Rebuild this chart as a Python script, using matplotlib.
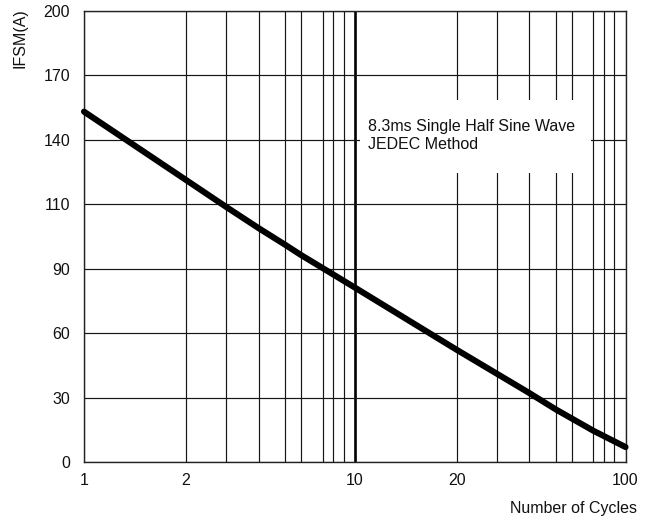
import numpy as np
import matplotlib
matplotlib.use("Agg")
import matplotlib.pyplot as plt
from matplotlib.patches import Rectangle

plt.rcParams['font.family'] = ['Liberation Sans', 'DejaVu Sans']

# ---- data ----
cycles = [1, 2, 3, 4, 5, 6, 8, 10, 20, 30, 40, 50, 70, 100]
ifsm = [153.1, 121.3, 109.2, 102.6, 97.4, 94.3, 87.4, 81.3, 52.3, 41.2, 32.2, 24.5, 14.7, 7.1]

y_tick_values = [0, 30, 60, 90, 110, 140, 170, 200]
x_major_ticks = [1, 2, 10, 20, 100]
x_major_labels = ['1', '2', '10', '20', '100']
x_minor_ticks = [3, 4, 5, 6, 7, 8, 9, 30, 40, 50, 60, 70, 80, 90]

# ---- scale definitions (graph paper of the original) ----
mant = np.arange(1, 11, dtype=float)
frac = np.array([0, .377, .525, .645, .744, .801, .881, .920, .959, 1.0])
ypos = np.arange(len(y_tick_values), dtype=float)
yval = np.array(y_tick_values, dtype=float)


def x_fwd(x):
    x = np.asarray(x, dtype=float)
    xs = np.where(x > 0, x, 1e-9)
    d = np.floor(np.log10(xs) + 1e-12)
    m = xs / 10.0 ** d
    return d + np.interp(m, mant, frac)


def x_inv(p):
    p = np.asarray(p, dtype=float)
    d = np.floor(p + 1e-12)
    f = p - d
    return 10.0 ** d * np.interp(f, frac, mant)


def y_fwd(v):
    v = np.asarray(v, dtype=float)
    return np.interp(v, yval, ypos)


def y_inv(p):
    p = np.asarray(p, dtype=float)
    return np.interp(p, ypos, yval)


fig = plt.figure(figsize=(6.55, 5.23), dpi=100)
ax = fig.add_axes([84 / 655, (523 - 462.3) / 523, 541.5 / 655, 451.5 / 523])

ax.set_xscale('function', functions=(x_fwd, x_inv))
ax.set_yscale('function', functions=(y_fwd, y_inv))
ax.set_xlim(1, 100)
ax.set_ylim(0, 200)

ax.set_xticks(x_major_ticks)
ax.set_xticklabels(x_major_labels)
ax.set_xticks(x_minor_ticks, minor=True)
ax.xaxis.set_minor_formatter(matplotlib.ticker.NullFormatter())
ax.set_yticks(y_tick_values)
ax.set_yticklabels([str(v) for v in y_tick_values])
ax.yaxis.set_minor_locator(matplotlib.ticker.NullLocator())

ax.tick_params(which='both', length=0, labelsize=11.5, colors='#111111')
ax.tick_params(axis='y', pad=10)
ax.tick_params(axis='x', pad=8)

ax.set_axisbelow(True)
ax.grid(True, which='both', color='#151515', linewidth=0.85)
# thicker decade line at 10
for t in ax.xaxis.get_major_ticks():
    if abs(t.get_loc() - 10) < 1e-9:
        t.gridline.set_linewidth(1.9)
        t.gridline.set_color('black')

for s in ax.spines.values():
    s.set_color('#222222')
    s.set_linewidth(1.0)

ax.plot(cycles, ifsm, color='black', linewidth=4.4, solid_capstyle='round',
        solid_joinstyle='round', zorder=4, clip_on=False)

# white box behind annotation
ax.add_patch(Rectangle((0.510, 0.640), 0.4255, 0.1615, transform=ax.transAxes,
                       facecolor='white', edgecolor='none', zorder=2))
ax.text(0.525, 0.723, '8.3ms Single Half Sine Wave\nJEDEC Method',
        transform=ax.transAxes, ha='left', va='center', fontsize=11.5,
        linespacing=1.25, color='#111111', zorder=3)

fig.text(20 / 655, 1 - 38 / 523, 'IFSM(A)', rotation=90, ha='center', va='center',
         fontsize=11.5, color='#111111')
fig.text(637 / 655, 1 - 508 / 523, 'Number of Cycles', ha='right', va='center',
         fontsize=11.5, color='#111111')

fig.savefig('out.png', dpi=100)
